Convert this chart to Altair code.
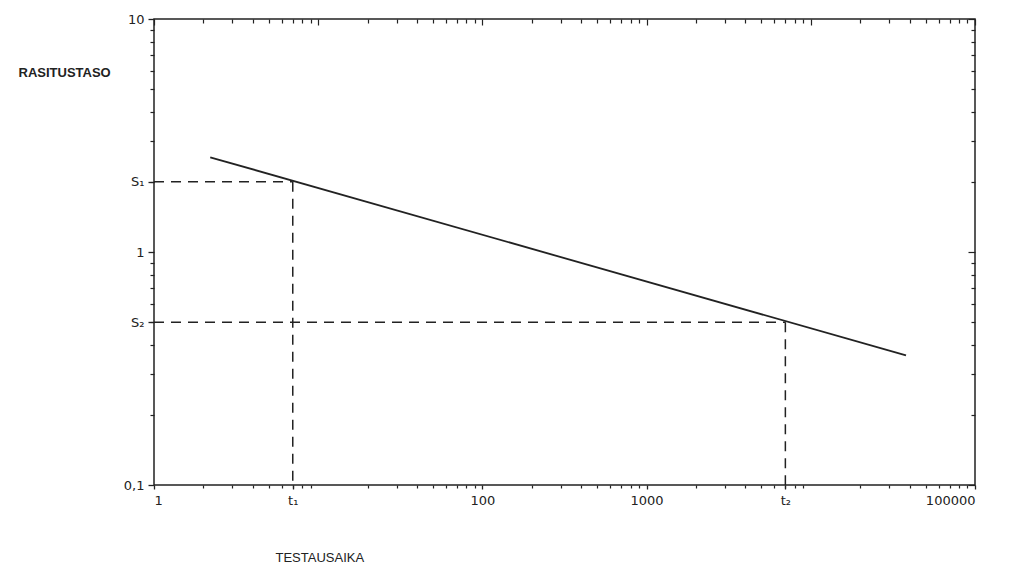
import altair as alt
import pandas as pd

# ---- data ----
line_t = [2.2, 38000]          # test time at the ends of the line
line_s = [2.55, 0.36]          # stress level at the ends of the line
mark_t = [7, 7000]             # t1, t2
mark_s = [2.0, 0.5]            # S1, S2
mark_t_labels = ["t\u2081", "t\u2082"]
mark_s_labels = ["S\u2081", "S\u2082"]

x_label_vals = [1, 100, 1000, 100000]
x_label_text = ["1", "100", "1000", "100000"]
y_label_vals = [0.1, 1, 10]
y_label_text = ["0,1", "1", "10"]

x_decades = [1, 10, 100, 1000, 10000, 100000]
y_decades = [0.1, 1, 10]
x_minor = [m * d for d in [1, 10, 100, 1000, 10000] for m in range(2, 10)]
y_minor = [round(m * d, 3) for d in [0.1, 1] for m in range(2, 10)]

X_DOMAIN = [1, 100000]
Y_DOMAIN = [0.1, 10]
INK = "#222222"

line_df = pd.DataFrame({"t": line_t, "s": line_s})
rows = []
for t, s in zip(mark_t, mark_s):
    rows.append({"x": X_DOMAIN[0], "x2": t, "y": s, "y2": s})
    rows.append({"x": t, "x2": t, "y": s, "y2": Y_DOMAIN[0]})
guide_df = pd.DataFrame(rows)

xs = alt.Scale(type="log", domain=X_DOMAIN, nice=False)
ys = alt.Scale(type="log", domain=Y_DOMAIN, nice=False)


def label_expr(vals, texts):
    e = "''"
    for v, t in reversed(list(zip(vals, texts))):
        e = f"datum.value == {v} ? '{t}' : ({e})"
    return e


xb_vals = x_label_vals + mark_t
xb_text = x_label_text + mark_t_labels
yl_vals = y_label_vals + mark_s
yl_text = y_label_text + mark_s_labels

lab_common = dict(labelFont="DejaVu Sans", labelFontSize=13, labelColor=INK,
                  tickColor=INK, tickWidth=1.3, domain=False, grid=False)

main = alt.Chart(line_df).mark_line(color=INK, strokeWidth=1.8).encode(
    x=alt.X("t:Q", scale=xs, axis=alt.Axis(
        orient="bottom", values=xb_vals, labelExpr=label_expr(xb_vals, xb_text),
        tickSize=4, labelPadding=5, title="TESTAUSAIKA", titleFont="Liberation Sans",
        titleFontSize=13, titleFontWeight="normal", titleColor=INK, titleAngle=0,
        titleAlign="left", titleBaseline="middle", titleX=121, titleY=72, **lab_common)),
    y=alt.Y("s:Q", scale=ys, axis=alt.Axis(
        orient="left", values=yl_vals, labelExpr=label_expr(yl_vals, yl_text),
        tickSize=6, labelPadding=4, title="RASITUSTASO", titleFont="Liberation Sans",
        titleFontSize=13, titleFontWeight="bold", titleColor=INK, titleAngle=0,
        titleAlign="left", titleBaseline="middle", titleX=-136, titleY=53, **lab_common)),
)

guides = alt.Chart(guide_df).mark_rule(color=INK, strokeWidth=1.5, strokeDash=[10, 7]).encode(
    x=alt.X("x:Q", scale=xs, axis=None),
    x2="x2:Q",
    y=alt.Y("y:Q", scale=ys, axis=None),
    y2="y2:Q",
)

tick_common = dict(labels=False, domain=False, grid=False, tickColor=INK, tickWidth=1.2, title=None)


def x_axis_layer(vals, orient, size):
    return alt.Chart(line_df).mark_point(opacity=0).encode(
        x=alt.X("t:Q", scale=xs, axis=alt.Axis(orient=orient, values=vals, tickSize=size, **tick_common)))


def y_axis_layer(vals, orient, size):
    return alt.Chart(line_df).mark_point(opacity=0).encode(
        y=alt.Y("s:Q", scale=ys, axis=alt.Axis(orient=orient, values=vals, tickSize=size, **tick_common)))


layers = [
    main, guides,
    x_axis_layer(x_minor, "bottom", 3),
    x_axis_layer(x_minor, "top", {"expr": "-4"}),
    x_axis_layer(x_decades, "top", {"expr": "-6"}),
    y_axis_layer(y_minor, "left", 4),
    y_axis_layer(y_minor, "right", {"expr": "-4"}),
    y_axis_layer(y_decades, "right", {"expr": "-7"}),
]

chart = alt.layer(*layers).resolve_axis(x="independent", y="independent").properties(
    width=821, height=466,
    autosize=alt.AutoSizeParams(type="none"),
    padding={"left": 146, "top": 11, "right": 40, "bottom": 78},
    background="white",
).configure_view(stroke=INK, strokeWidth=1.5)

chart.save("out.html", embed_options={"renderer": "svg", "actions": False})
